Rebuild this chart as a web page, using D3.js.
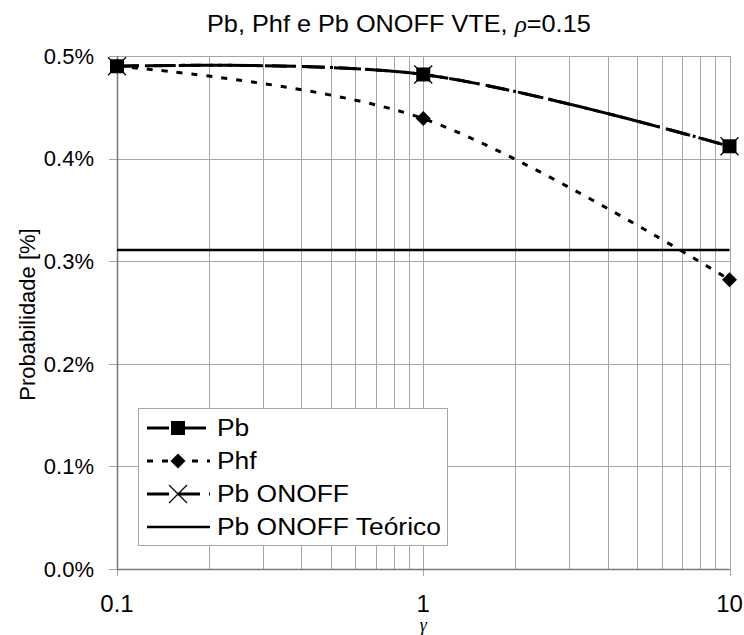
<!DOCTYPE html>
<html>
<head>
<meta charset="utf-8">
<title>Pb, Phf e Pb ONOFF VTE</title>
<script src="https://d3js.org/d3.v7.min.js"></script>
<style>
	body { margin: 0; background: #fff; }
	svg { font-family: "Liberation Sans", Arial, sans-serif; }
	.grid line { stroke: #a6a6a6; stroke-width: 1; shape-rendering: crispEdges; }
	.tick-label { font-size: 22px; fill: #000; }
</style>
</head>
<body>
<div id="chart"></div>
<script>
// data
var gamma = [0.1, 1, 10];
var pb = [0.490, 0.482, 0.412];
var phf = [0.490, 0.439, 0.282];
var pbOnoff = [0.490, 0.482, 0.412];
var teoricoX = [0.1, 10];
var teorico = [0.311, 0.311];
var yTicks = [0, 0.1, 0.2, 0.3, 0.4, 0.5];
var xTicks = [0.1, 1, 10];
var xMinor = [0.2, 0.3, 0.4, 0.5, 0.6, 0.7, 0.8, 0.9, 2, 3, 4, 5, 6, 7, 8, 9];
var seriesNames = ["Pb", "Phf", "Pb ONOFF", "Pb ONOFF Teórico"];

var W = 744, H = 635;
var margin = {top: 56, right: 14.5, bottom: 66, left: 117};

var svg = d3.select("#chart").append("svg")
	.attr("width", W)
	.attr("height", H);

var x = d3.scaleLog().domain([0.1, 10]).range([margin.left, W - margin.right]);
var y = d3.scaleLinear().domain([0, 0.5]).range([H - margin.bottom, margin.top]);

// grid
var grid = svg.append("g").attr("class", "grid");
grid.selectAll(".v").data(xMinor.concat(xTicks)).enter().append("line")
	.attr("x1", function (d) { return Math.round(x(d)) + 0.5; })
	.attr("x2", function (d) { return Math.round(x(d)) + 0.5; })
	.attr("y1", y(0.5)).attr("y2", y(0));
grid.selectAll(".h").data(yTicks).enter().append("line")
	.attr("x1", x(0.1) - 8).attr("x2", x(10))
	.attr("y1", function (d) { return Math.round(y(d)) + 0.5; })
	.attr("y2", function (d) { return Math.round(y(d)) + 0.5; });
grid.selectAll(".t").data(xTicks).enter().append("line")
	.attr("x1", function (d) { return Math.round(x(d)) + 0.5; })
	.attr("x2", function (d) { return Math.round(x(d)) + 0.5; })
	.attr("y1", y(0)).attr("y2", y(0) + 7);

// axes lines
svg.append("line")
	.attr("x1", Math.round(x(0.1)) + 0.5).attr("x2", Math.round(x(0.1)) + 0.5)
	.attr("y1", y(0.5)).attr("y2", y(0))
	.attr("stroke", "#7a7a7a").attr("stroke-width", 1.5);
svg.append("line")
	.attr("x1", x(0.1)).attr("x2", x(10))
	.attr("y1", Math.round(y(0)) + 0.5).attr("y2", Math.round(y(0)) + 0.5)
	.attr("stroke", "#7a7a7a").attr("stroke-width", 1.5);

// tick labels
svg.selectAll(".ylab").data(yTicks).enter().append("text")
	.attr("class", "tick-label")
	.attr("x", x(0.1) - 23)
	.attr("y", function (d) { return y(d); })
	.attr("dy", "0.35em")
	.attr("text-anchor", "end")
	.text(function (d) { return d.toFixed(1) + "%"; });

svg.selectAll(".xlab").data(xTicks).enter().append("text")
	.attr("class", "tick-label")
	.style("font-size", "24px")
	.attr("x", function (d) { return x(d); })
	.attr("y", 612)
	.attr("text-anchor", "middle")
	.text(function (d) { return d3.format("~g")(d); });

// axis titles
svg.append("text")
	.attr("x", x(1)).attr("y", 631)
	.attr("text-anchor", "middle")
	.style("font-family", "'Liberation Serif', serif")
	.style("font-style", "italic")
	.style("font-size", "18px")
	.text("γ");

svg.append("text")
	.attr("transform", "translate(35," + (y(0.25) + 2) + ") rotate(-90)")
	.attr("text-anchor", "middle")
	.style("font-size", "22px")
	.text("Probabilidade [%]");

var title = svg.append("text")
	.attr("transform", "translate(207,32) scale(1.1,1)")
	.style("font-size", "23px");
title.append("tspan").text("Pb, Phf e Pb ONOFF VTE, ");
title.append("tspan")
	.style("font-family", "'Liberation Serif', serif")
	.style("font-style", "italic")
	.text("ρ");
title.append("tspan").text("=0.15");

// lines
var line = d3.line()
	.x(function (d) { return x(d[0]); })
	.y(function (d) { return y(d[1]); })
	.curve(d3.curveCardinal.tension(0));

function pairs(xs, ys) { return xs.map(function (v, i) { return [v, ys[i]]; }); }

var styles = [
	{dash: "22,6,3,6", width: 3},
	{dash: "6,9", width: 3},
	{dash: "22,9", width: 3},
	{dash: null, width: 2.5}
];
var seriesData = [pairs(gamma, pb), pairs(gamma, phf), pairs(gamma, pbOnoff), pairs(teoricoX, teorico)];

var plot = svg.append("g");
seriesData.forEach(function (d, i) {
	plot.append("path")
		.datum(d)
		.attr("fill", "none")
		.attr("stroke", "#000")
		.attr("stroke-width", styles[i].width)
		.attr("stroke-dasharray", styles[i].dash)
		.attr("d", line);
});

function square(g, cx, cy) {
	g.append("rect").attr("x", cx - 7).attr("y", cy - 7)
		.attr("width", 14).attr("height", 14).attr("fill", "#000");
}
function diamond(g, cx, cy) {
	g.append("path").attr("d", "M" + cx + "," + (cy - 7.5) + "L" + (cx + 7.5) + "," + cy +
		"L" + cx + "," + (cy + 7.5) + "L" + (cx - 7.5) + "," + cy + "Z").attr("fill", "#000");
}
function cross(g, cx, cy) {
	g.append("path").attr("d", "M" + (cx - 9) + "," + (cy - 9) + "L" + (cx + 9) + "," + (cy + 9) +
		"M" + (cx + 9) + "," + (cy - 9) + "L" + (cx - 9) + "," + (cy + 9))
		.attr("stroke", "#000").attr("stroke-width", 1.2).attr("fill", "none");
}

var markerFns = [square, diamond, cross, null];
seriesData.forEach(function (d, i) {
	if (!markerFns[i]) return;
	d.forEach(function (p) { markerFns[i](plot, x(p[0]), y(p[1])); });
});

// legend
var leg = svg.append("g");
leg.append("rect")
	.attr("x", 138.5).attr("y", 408.5).attr("width", 309).attr("height", 137)
	.attr("fill", "#fff").attr("stroke", "#a6a6a6");
seriesNames.forEach(function (name, i) {
	var ly = 428 + i * 33;
	leg.append("line")
		.attr("x1", 147).attr("x2", 210).attr("y1", ly).attr("y2", ly)
		.attr("stroke", "#000")
		.attr("stroke-width", styles[i].width)
		.attr("stroke-dasharray", styles[i].dash);
	if (markerFns[i]) markerFns[i](leg, 178, ly);
	leg.append("text")
		.attr("transform", "translate(217," + ly + ") scale(1.1,1)")
		.attr("dy", "0.35em")
		.style("font-size", "24px")
		.text(name);
});
</script>
</body>
</html>
